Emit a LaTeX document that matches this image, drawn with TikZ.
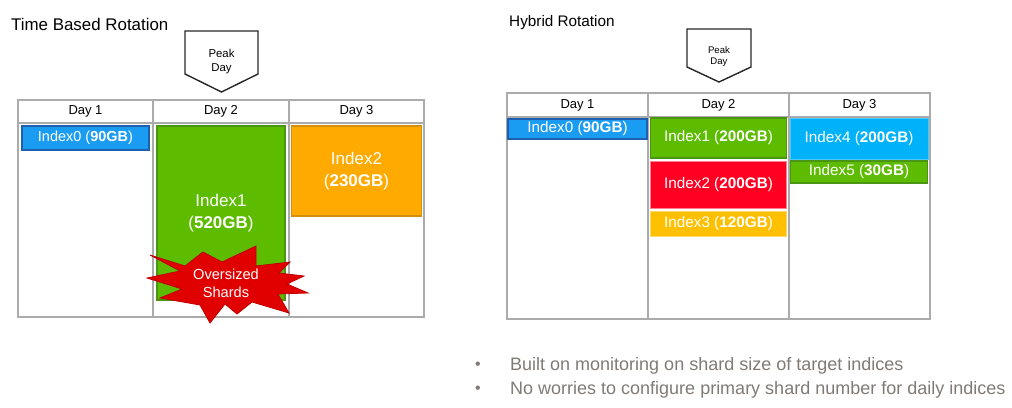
\documentclass[tikz,border=0pt]{standalone}
\usepackage{fontspec}
\setmainfont{Liberation Sans}
\usepackage{xcolor}
\usepackage{tikz}
\definecolor{cGrid}{HTML}{ABABAB}
\definecolor{cBlue}{HTML}{1A9CF2}
\definecolor{cBlueD}{HTML}{1F5FB0}
\definecolor{cSky}{HTML}{00B2FA}
\definecolor{cGreen}{HTML}{5DBC00}
\definecolor{cGreenD}{HTML}{4A9614}
\definecolor{cOrange}{HTML}{FFAA00}
\definecolor{cOrangeD}{HTML}{D4900C}
\definecolor{cRed}{HTML}{FF0022}
\definecolor{cPink}{HTML}{FF7F8E}
\definecolor{cGold}{HTML}{FFC000}
\definecolor{cGoldL}{HTML}{FFD966}
\definecolor{cBurst}{HTML}{E00000}
\definecolor{cNote}{HTML}{7F7A75}
\newcommand{\fs}[1]{\fontsize{#1}{#1}\selectfont}
\tikzset{
  tabline/.style={draw=cGrid, line width=1.6pt},
  dayhead/.style={font=\fs{13}, inner sep=0pt},
  idx/.style={line width=1.5pt, text=white, inner sep=0pt, align=center, font=\fs{14.5}},
  ridx/.style={idx, font=\fs{15.3}},
  peak/.style={draw=black!85, line width=1.4pt, line join=miter},
  title/.style={font=\fs{16.9}, anchor=west, inner sep=0pt},
  note/.style={font=\fs{18}, text=cNote, anchor=west, inner sep=0pt},
}

\begin{document}
\begin{tikzpicture}[x=1pt,y=-1pt]
        \useasboundingbox (0,0) rectangle (1012,407);
        % time based rotation
        \node[title] (ltitle) at (11,24) {Time Based Rotation};
        \draw[peak] (185,31) -- (258,31) -- (258,74) -- (221.5,92) -- (185,74) -- cycle;
        \node[font=\fs{11.4}, align=center, inner sep=0pt] (lpeak) at (221.5,62) {Peak\\[2.5pt]Day};
        \draw[tabline] (18,100) rectangle (424,317);
        \draw[tabline] (18,123) -- (424,123);
        \draw[tabline] (153,100) -- (153,317);
        \draw[tabline] (289,100) -- (289,317);
        \node[dayhead] (ld1) at (85.5,111.5) {Day 1};
        \node[dayhead] (ld2) at (221,111.5) {Day 2};
        \node[dayhead] (ld3) at (356.5,111.5) {Day 3};
        \node[idx, fill=cBlue, draw=cBlueD, minimum width=127pt, minimum height=24pt] (li0) at (85.5,138) {Index0 (\textbf{90GB})};
        \node[idx, fill=cGreen, draw=cGreenD, minimum width=128pt, minimum height=174pt, font=\fs{17}] (li1) at (221,213) {Index1\\[5pt](\textbf{520GB})};
        \node[idx, fill=cOrange, draw=cOrangeD, minimum width=130pt, minimum height=90pt, font=\fs{17}] (li2) at (356.5,171) {Index2\\[5pt](\textbf{230GB})};
        \draw[fill=cBurst, draw=cBurst!85!black, line width=0.8pt, line join=miter]
          (150,255) -- (185,266) -- (203,252) -- (222,262) -- (256,246) -- (256,266) -- (290,262)
          -- (279,273) -- (304,276) -- (287,284) -- (308,293) -- (278,294) -- (289,313) -- (252,302)
          -- (237,314) -- (225,304) -- (210,323) -- (200,305) -- (160,298) -- (182,289) -- (147,278)
          -- (180,271) -- cycle;
        \node[text=white, align=center, font=\fs{14.6}, inner sep=0pt] (burst) at (226,283) {Oversized\\[3pt]Shards};
        % hybrid rotation
        \node[title, font=\fs{15.3}] (rtitle) at (509,23) {Hybrid Rotation};
        \draw[peak] (687,29) -- (751,29) -- (751,67) -- (719,82) -- (687,67) -- cycle;
        \node[font=\fs{9.6}, align=center, inner sep=0pt] (rpeak) at (719,56.5) {Peak\\[1.5pt]Day};
        \draw[tabline] (507,93) rectangle (930,319);
        \draw[tabline] (507,117) -- (930,117);
        \draw[tabline] (648,93) -- (648,319);
        \draw[tabline] (789,93) -- (789,319);
        \node[dayhead] (rd1) at (577.5,105) {Day 1};
        \node[dayhead] (rd2) at (718.5,105) {Day 2};
        \node[dayhead] (rd3) at (859.5,105) {Day 3};
        \node[ridx, fill=cBlue, draw=cBlueD, minimum width=139pt, minimum height=20pt] (ri0) at (577.5,129) {Index0 (\textbf{90GB})};
        \node[ridx, fill=cGreen, draw=cGreenD, minimum width=136pt, minimum height=40pt] (ri1) at (718.5,138) {Index1 (\textbf{200GB})};
        \node[ridx, fill=cRed, draw=cPink, minimum width=136pt, minimum height=47pt] (ri2) at (718.5,185) {Index2 (\textbf{200GB})};
        \node[ridx, fill=cGold, draw=cGoldL, line width=1pt, minimum width=136pt, minimum height=25pt] (ri3) at (718.5,223.5) {Index3 (\textbf{120GB})};
        \node[ridx, fill=cSky, draw=cSky!70, line width=1pt, minimum width=138pt, minimum height=41pt] (ri4) at (859,138.5) {Index4 (\textbf{200GB})};
        \node[ridx, fill=cGreen, draw=cGreenD, minimum width=137pt, minimum height=22pt] (ri5) at (859,172) {Index5 (\textbf{30GB})};
        % notes
        \node[note, font=\fs{16}] (b1) at (475,366) {\textbullet};
        \node[note] (n1) at (510,366) {Built on monitoring on shard size of target indices};
        \node[note, font=\fs{16}] (b2) at (475,390) {\textbullet};
        \node[note] (n2) at (510,390) {No worries to configure primary shard number for daily indices};
      \end{tikzpicture}
\end{document}
